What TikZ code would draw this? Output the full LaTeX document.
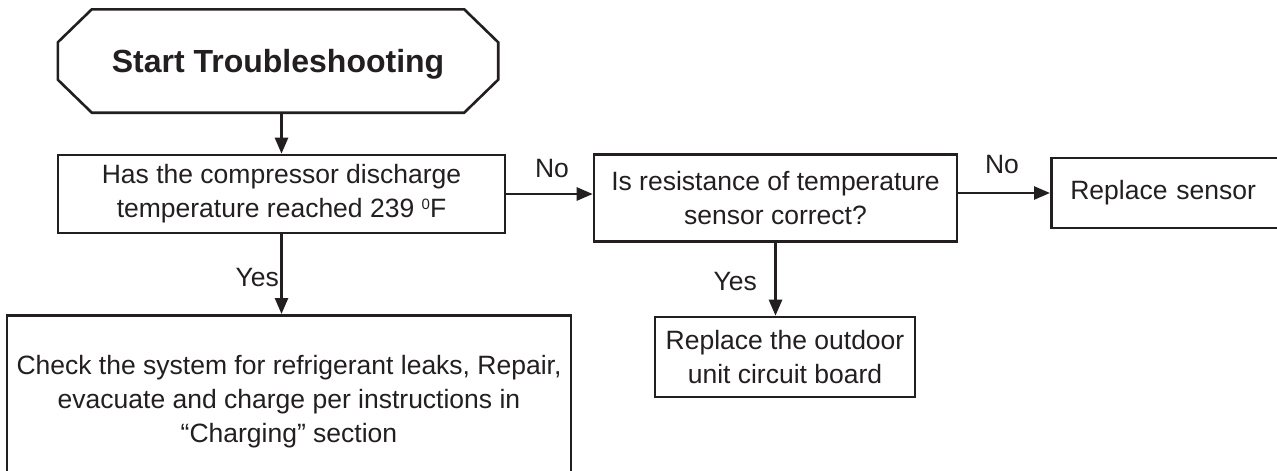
\documentclass[tikz,border=0pt]{standalone}
\usepackage{fontspec}
\setmainfont{Liberation Sans}
\usetikzlibrary{arrows.meta}
\definecolor{ink}{HTML}{231F20}
\newcommand{\bodysize}{\fontsize{26.5}{34}\selectfont}
\newcommand{\degzero}{\raisebox{8pt}{\fontsize{15}{15}\selectfont 0}}
\tikzset{
  box/.style={draw=ink, line width=2.6pt, text=ink, font=\bodysize, align=center, inner sep=0pt},
  arr/.style={draw=ink, line width=2.6pt, -{Triangle[length=16pt,width=13pt]}},
  lbl/.style={text=ink, font=\bodysize, inner sep=0pt},
}
\begin{document}
\begin{tikzpicture}[x=1pt,y=-1pt]
\useasboundingbox (0,0) rectangle (1277,471);
\clip (0,0) rectangle (1277,471);
\fill[white] (0,0) rectangle (1277,471);
% start terminal
\node[text=ink, inner sep=0pt, minimum width=440pt, minimum height=103pt, text depth=0pt,
      font=\bfseries\fontsize{32}{38}\selectfont] (start) at (278,61) {Start Troubleshooting};
\draw[ink, line width=2.6pt, line join=miter]
  ([xshift=34pt]start.north west) -- ([xshift=-34pt]start.north east)
  -- ([yshift=-33pt]start.north east) -- ([yshift=33pt]start.south east)
  -- ([xshift=-34pt]start.south east) -- ([xshift=34pt]start.south west)
  -- ([yshift=33pt]start.south west) -- ([yshift=-33pt]start.north west) -- cycle;
% boxes
\node[box, minimum width=447pt, minimum height=78pt] (q1) at (281.5,194)
  {Has the compressor discharge\\temperature reached 239 \degzero F};
\node[box, minimum width=363pt, minimum height=87pt] (q2) at (775.5,198)
  {Is resistance of temperature\\sensor correct?};
\node[box, anchor=west, text width=216pt, inner xsep=19pt, minimum height=70pt, align=left] (r4) at (1050,193)
  {Replace sensor};
\node[box, anchor=north, minimum width=564pt, minimum height=172pt] (a3) at (289,314)
  {Check the system for refrigerant leaks, Repair,\\evacuate and charge per instructions in\\“Charging” section};
\node[box, minimum width=260pt, minimum height=80pt] (a5) at (785,357)
  {Replace the outdoor\\unit circuit board};
% connectors
\draw[arr] (start.south -| q1.north) -- (q1.north);
\draw[arr] (q1.south) -- (q1.south |- a3.north);
\draw[arr] (q1.east) -- (q1.east -| q2.west);
\draw[arr] ([yshift=5pt]q2.east) -- ([yshift=5pt]q2.east -| r4.west);
\draw[arr] (q2.south) -- (q2.south |- a5.north);
% labels
\node[lbl] (no1) at (552,169) {No};
\node[lbl] (no2) at (1002,165) {No};
\node[lbl, anchor=east] (yes1) at (279,278) {Yes};
\node[lbl, anchor=east] (yes2) at (757,282) {Yes};
\end{tikzpicture}
\end{document}
